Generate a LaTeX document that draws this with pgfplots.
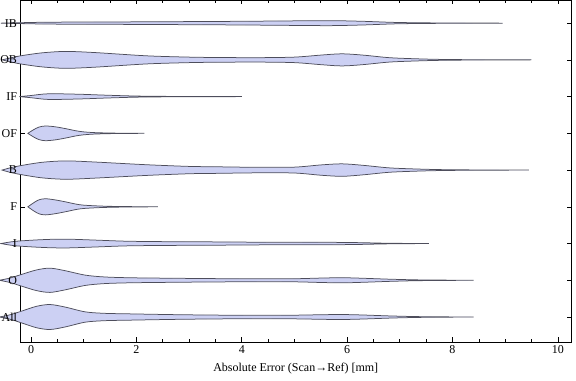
\documentclass[border=0pt]{standalone}
\usepackage{fontspec}
\setmainfont{Liberation Serif}
\usepackage{pgfplots}
\pgfplotsset{compat=1.18}
\usepgfplotslibrary{fillbetween}
\usepackage{pgfplotstable}

\definecolor{vfill}{RGB}{204,208,243}
\definecolor{vedge}{RGB}{78,78,92}

% violin profiles: x = absolute error, w = half width (category units)
\pgfplotstableread{
x w
-0.57 0
-0.2 0.012
0.3 0.025
1 0.03
2 0.035
3 0.042
4 0.05
5 0.062
5.7 0.068
6.3 0.05
6.9 0.02
7.5 0.008
8.2 0.004
8.95 0
}\tIB
\pgfplotstableread{
x w
-0.55 0
-0.4 0.05
-0.2 0.11
0.2 0.19
0.65 0.23
1.2 0.2
2.2 0.11
3.0 0.075
3.5 0.065
4.3 0.06
5.0 0.075
5.5 0.13
5.9 0.165
6.3 0.13
6.8 0.06
7.3 0.03
7.8 0.012
8.5 0.004
9.5 0
}\tOB
\pgfplotstableread{
x w
-0.22 0
0 0.03
0.33 0.077
0.9 0.065
1.4 0.04
2.0 0.015
2.6 0.006
3.3 0.003
4.0 0
}\tIF
\pgfplotstableread{
x w
-0.06 0
0.05 0.1
0.15 0.17
0.27 0.2
0.45 0.18
0.65 0.13
0.85 0.07
1.0 0.04
1.2 0.02
1.5 0.008
1.8 0.003
2.15 0
}\tOF
\pgfplotstableread{
x w
-0.55 0
-0.4 0.06
-0.2 0.12
0.2 0.21
0.65 0.25
1.2 0.22
2.2 0.145
3.0 0.1
3.5 0.09
4.3 0.075
5.0 0.08
5.5 0.14
5.9 0.17
6.3 0.13
6.8 0.06
7.3 0.03
7.8 0.012
8.5 0.004
9.45 0
}\tB
\pgfplotstableread{
x w
-0.06 0
0.05 0.11
0.15 0.19
0.27 0.22
0.45 0.19
0.65 0.136
0.85 0.075
1.0 0.045
1.3 0.022
1.6 0.01
2.0 0.004
2.41 0
}\tF
\pgfplotstableread{
x w
-0.57 0
-0.3 0.06
0.2 0.105
0.65 0.12
1.2 0.095
1.8 0.064
2.5 0.052
3.5 0.045
4.5 0.035
5.5 0.035
6.2 0.025
6.7 0.01
7.1 0.004
7.55 0
}\tI
\pgfplotstableread{
x w
-0.6 0
-0.4 0.06
-0.2 0.15
0.1 0.28
0.36 0.33
0.65 0.26
1.03 0.14
1.4 0.09
1.9 0.068
2.7 0.055
3.5 0.045
4.3 0.04
5.0 0.042
5.5 0.06
5.9 0.07
6.3 0.055
6.8 0.03
7.3 0.012
7.8 0.005
8.4 0
}\tO
\pgfplotstableread{
x w
-0.6 0
-0.4 0.06
-0.2 0.15
0.1 0.29
0.36 0.34
0.65 0.27
1.03 0.14
1.4 0.1
1.9 0.085
2.7 0.065
3.5 0.052
4.3 0.047
5.0 0.05
5.5 0.062
5.9 0.068
6.3 0.055
6.8 0.03
7.3 0.012
7.8 0.005
8.4 0
}\tAll

\newcommand{\violin}[2]{%
  \addplot[draw=none, smooth, name path=u#2] table[x=x, y expr={#2+\thisrow{w}}] {#1};
  \addplot[draw=none, smooth, name path=l#2] table[x=x, y expr={#2-\thisrow{w}}] {#1};
  \addplot[fill=vfill, draw=vedge, line width=0.75pt] fill between[of=u#2 and l#2];
}

\begin{document}
\begin{tikzpicture}
\begin{axis}[
  scale only axis,
  width=550.5pt, height=342pt,
  xmin=-0.2, xmax=10.25, ymin=0.32, ymax=9.63,
  clip=false,
  axis line style={black, line width=0.8pt},
  xtick={0,2,...,10},
  minor x tick num=3,
  ytick={1,...,9},
  yticklabels={All,O,I,F,B,OF,IF,OB,IB},
  tick align=inside,
  tick pos=both,
  xticklabel pos=lower,
  yticklabel pos=left,
  major tick length=4.5pt,
  minor tick length=3pt,
  tick style={black, line width=0.6pt},
  /pgf/number format/assume math mode=true,
  ticklabel style={font=\fontsize{12}{14}\selectfont},
  xlabel style={font=\fontsize{12}{14}\selectfont, yshift=-3pt},
  xlabel={Absolute Error (Scan→Ref) [mm]},
]
\violin{\tIB}{9}
\violin{\tOB}{8}
\violin{\tIF}{7}
\violin{\tOF}{6}
\violin{\tB}{5}
\violin{\tF}{4}
\violin{\tI}{3}
\violin{\tO}{2}
\violin{\tAll}{1}
\end{axis}
\pgfresetboundingbox
\path[use as bounding box] ([shift={(-20.5pt,-39pt)}]current axis.south west) rectangle ([shift={(5pt,0pt)}]current axis.north east);
\end{tikzpicture}
\end{document}
